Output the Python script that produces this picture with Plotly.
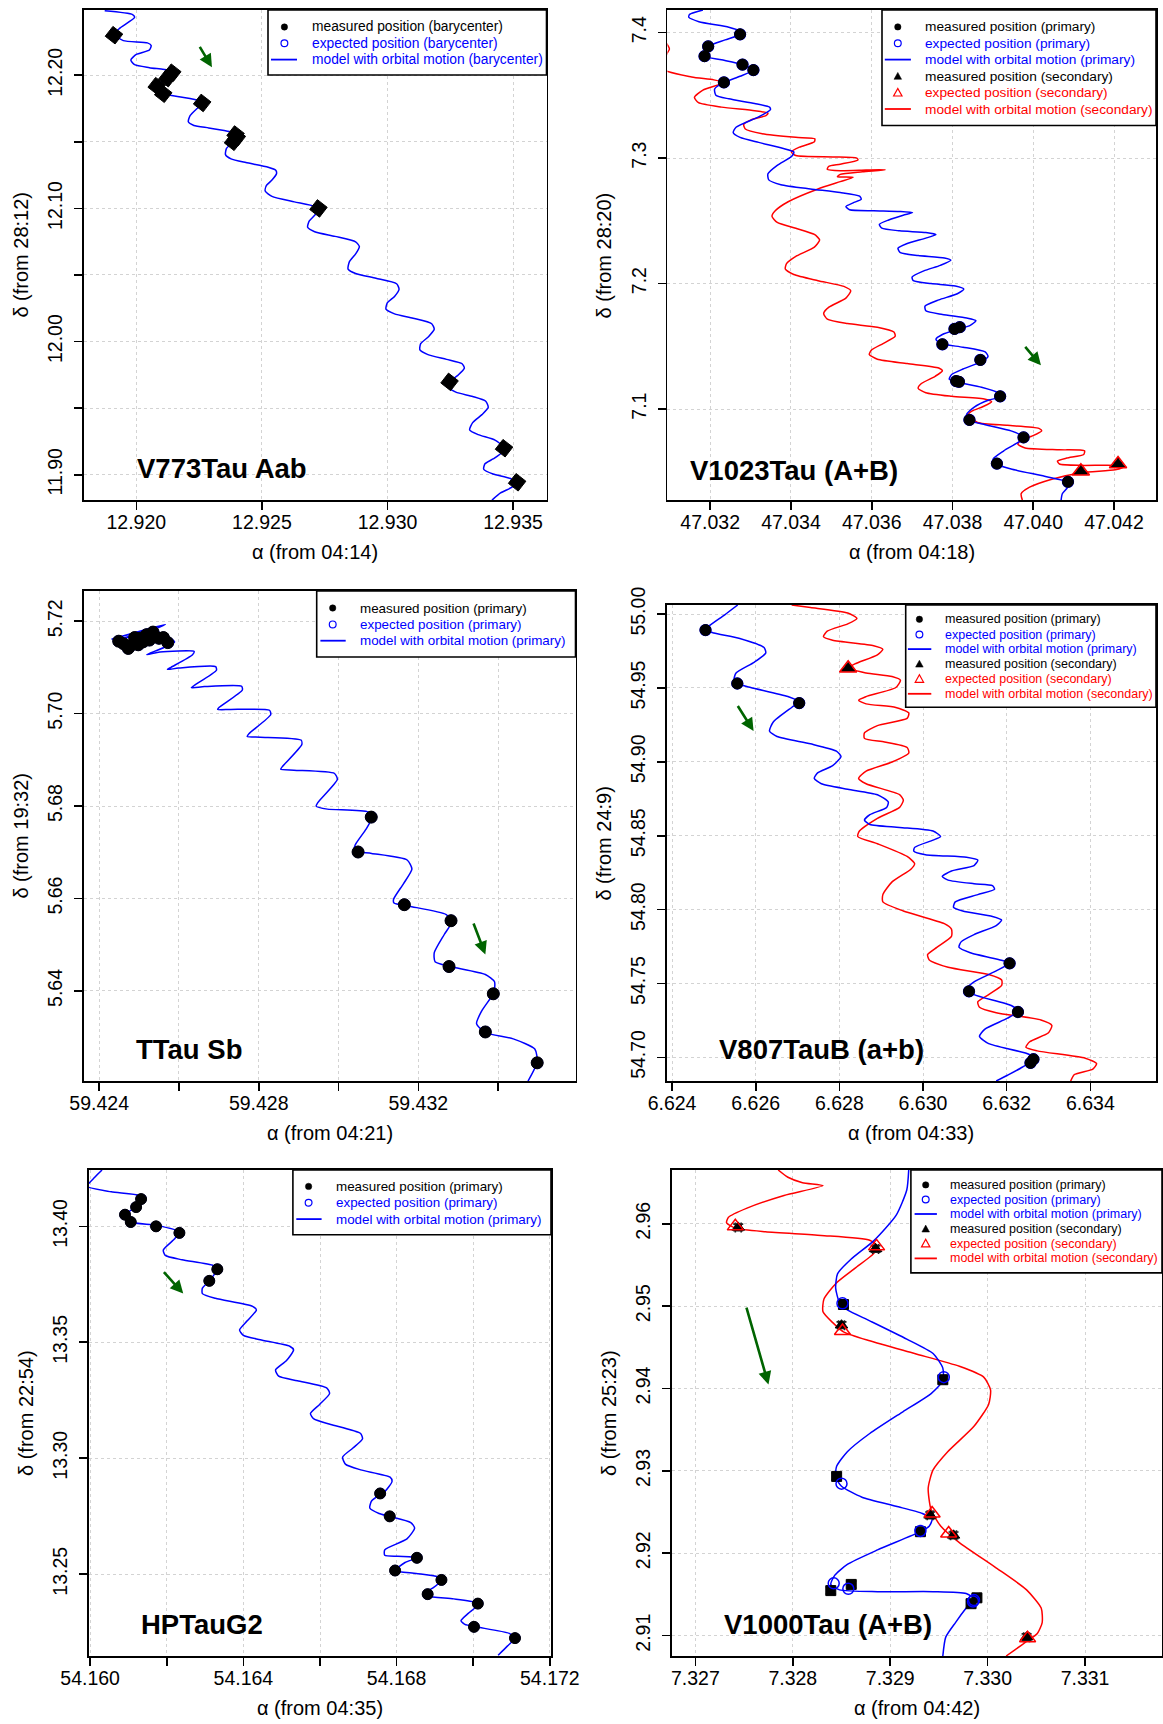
import plotly.graph_objects as go

W, H = 1163, 1724
FONT = "Liberation Sans, Arial, Helvetica, sans-serif"
BLUE, RED, GREEN = "#0000ff", "#ff0000", "#006400"

# ================= DATA =================
# ---- Panel 1: V773Tau Aab (barycenter) ----
v773_model_ra = [12.91874,12.91985,12.91993,12.91933,12.91911,12.91948,12.92044,12.92059,12.92052,12.92000,
                 12.91978,12.91993,12.92052,12.92126,12.92143,12.92126,12.92089,12.92086,12.92107,12.9217,
                 12.92251,12.92262,12.92244,12.92214,12.92207,12.92229,12.92288,12.9237,12.92395,12.92404,
                 12.92385,12.92359,12.92355,12.92377,12.92436,12.92525,12.92555,12.92558,12.9254,12.92518,
                 12.92513,12.9254,12.92629,12.9271,12.92725,12.9271,12.92688,12.92682,12.9271,12.92791,
                 12.92873,12.92888,12.92873,12.92848,12.92843,12.92873,12.92954,12.93036,12.93046,12.93028,
                 12.92999,12.92994,12.93028,12.93102,12.93176,12.93186,12.93164,12.93132,12.93129,12.93161,
                 12.93235,12.93297,12.93306,12.9328,12.9325,12.93243,12.93272,12.93339,12.93391,12.93401,
                 12.93376,12.93339,12.93327,12.93361,12.93428,12.9346,12.93454,12.9342,12.93388,12.93383,
                 12.9342,12.93487,12.93513,12.93494,12.9345,12.93416]
v773_model_dec = [12.2484,12.2456,12.2434,12.2352,12.2306,12.226,12.2243,12.2224,12.2189,12.2156,
                  12.2115,12.2079,12.2057,12.2038,12.2025,12.1984,12.1932,12.1896,12.1861,12.1839,
                  12.1809,12.1787,12.1754,12.1697,12.165,12.1623,12.1604,12.1577,12.1555,12.1533,
                  12.1495,12.1451,12.1404,12.1372,12.1344,12.1309,12.1287,12.126,12.1213,12.1172,
                  12.1131,12.109,12.1049,12.1014,12.0989,12.0948,12.0904,12.0858,12.0825,12.079,
                  12.0749,12.0713,12.0658,12.0598,12.0544,12.0511,12.0475,12.0434,12.0393,12.0339,
                  12.029,12.0243,12.0208,12.0175,12.0134,12.0093,12.0038,11.9984,11.9937,11.9902,
                  11.9866,11.9833,11.98,11.9746,11.9702,11.9656,11.962,11.9587,11.9552,11.9505,
                  11.9451,11.9391,11.9336,11.9301,11.926,11.921,11.9164,11.9118,11.9082,11.9041,
                  11.9005,11.8973,11.894,11.8904,11.8863,11.8809]
v773_meas_ra = [12.91911,12.92143,12.92123,12.92081,12.92107,12.92262,12.92395,12.92385,12.924,12.92725,12.93247,12.93464,12.93516]
v773_meas_dec = [12.2301,12.2019,12.1978,12.1918,12.1861,12.1792,12.1555,12.15,12.1533,12.10,11.9697,11.9199,11.8943]
v773_arrow = [12.92249, 12.2224, 12.92301, 12.206]   # tail ra, tail dec, head ra, head dec
v773_xticks = [12.920, 12.925, 12.930, 12.935]
v773_xlabels = ["12.920", "12.925", "12.930", "12.935"]
v773_yticks = [11.90, 11.95, 12.00, 12.05, 12.10, 12.15, 12.20]
v773_ylabels = ["11.90", "", "12.00", "", "12.10", "", "12.20"]

# ---- Panel 2: V1023Tau (A+B) ----
v1023_prim_ra = [47.03182,47.03149,47.03147,47.03172,47.03246,47.03272,47.03274,47.03237,47.03195,47.03189,
                 47.03186,47.03228,47.0328,47.03307,47.03274,47.03234,47.03211,47.03214,47.03246,47.0331,
                 47.03347,47.03349,47.0332,47.03264,47.03257,47.03274,47.0332,47.03379,47.03407,47.03402,
                 47.03366,47.03343,47.03345,47.03375,47.03448,47.03522,47.0357,47.03574,47.03554,47.03536,
                 47.03545,47.03605,47.03669,47.03701,47.03678,47.03642,47.03619,47.03625,47.03669,47.03734,
                 47.03759,47.03734,47.03688,47.03665,47.03671,47.03715,47.0378,47.03796,47.0377,47.03729,
                 47.037,47.03703,47.03747,47.03807,47.03828,47.03812,47.03766,47.03732,47.03734,47.03775,
                 47.03835,47.03858,47.03844,47.03816,47.03775,47.03759,47.0377,47.03826,47.03881,47.03888,
                 47.03872,47.03826,47.03798,47.03792,47.03809,47.03872,47.03913,47.03918,47.0389,47.03853,
                 47.03835,47.03839,47.03881,47.03945,47.03973,47.03968,47.03927,47.03901,47.03904,47.03945,
                 47.04028,47.04083,47.04085,47.04072,47.04069]
v1023_prim_dec = [7.418,7.4145,7.4122,7.4087,7.4043,7.4014,7.3986,7.3942,7.389,7.3855,
                  7.3812,7.3783,7.3745,7.3701,7.3652,7.3603,7.3551,7.3501,7.3472,7.3435,
                  7.3406,7.3385,7.3328,7.3246,7.3203,7.3165,7.3125,7.3078,7.3049,7.3014,
                  7.2942,7.2875,7.2826,7.2788,7.2754,7.2725,7.2696,7.2672,7.2643,7.2614,
                  7.2588,7.258,7.2574,7.2565,7.2545,7.2507,7.2472,7.2441,7.242,7.2406,
                  7.2391,7.2362,7.2319,7.2281,7.2246,7.2223,7.2203,7.2185,7.2145,7.2101,
                  7.2052,7.2023,7.2,7.198,7.1956,7.1919,7.187,7.182,7.1783,7.1754,
                  7.1725,7.1704,7.1667,7.1638,7.1594,7.1556,7.1522,7.1493,7.1455,7.142,
                  7.1377,7.1319,7.1275,7.1238,7.1217,7.1174,7.113,7.1096,7.1072,7.1014,
                  7.0957,7.0913,7.0875,7.0826,7.0783,7.0748,7.0667,7.0603,7.0565,7.0522,
                  7.0464,7.042,7.0377,7.0325,7.0275]
v1023_sec_ra = [47.03092,47.03099,47.03092,47.03082,47.03154,47.03209,47.03232,47.03182,47.03161,47.03171,
                47.03228,47.0331,47.03343,47.03338,47.03301,47.03283,47.03287,47.03329,47.03412,47.03459,
                47.03458,47.03421,47.03401,47.03412,47.03504,47.03563,47.03566,47.03522,47.03493,47.0349,
                47.03522,47.03586,47.03634,47.03577,47.03522,47.03515,47.03554,47.03522,47.03467,47.03393,
                47.03361,47.03353,47.03366,47.03412,47.03458,47.03471,47.03458,47.03412,47.03389,47.03386,
                47.03407,47.03467,47.03531,47.03548,47.03536,47.03494,47.03481,47.0349,47.0354,47.03614,
                47.03655,47.03658,47.03628,47.036,47.03594,47.03614,47.03688,47.03766,47.03775,47.03757,
                47.03723,47.03715,47.03734,47.03798,47.03881,47.03897,47.03876,47.03849,47.03839,47.03862,
                47.03936,47.04014,47.04021,47.03996,47.03968,47.03962,47.0398,47.04065,47.04127,47.04125,
                47.04083,47.0406,47.04065,47.0412,47.04203,47.04223,47.04203,47.0412,47.04046,47.03991,
                47.0397,47.03973]
v1023_sec_dec = [7.3913,7.387,7.3826,7.371,7.3646,7.3623,7.36,7.3542,7.3484,7.3441,
                 7.3406,7.3377,7.3357,7.3339,7.3304,7.3267,7.3232,7.3194,7.3165,7.3154,
                 7.313,7.3087,7.3049,7.302,7.3009,7.3,7.2985,7.2951,7.2933,7.291,
                 7.2899,7.2904,7.2907,7.289,7.287,7.2852,7.2846,7.2812,7.2754,7.2652,
                 7.258,7.2536,7.2487,7.2441,7.2391,7.2348,7.229,7.2217,7.2159,7.2116,
                 7.2072,7.2023,7.1977,7.1942,7.1884,7.1812,7.1762,7.1716,7.1681,7.1652,
                 7.1614,7.158,7.1522,7.1472,7.1435,7.1397,7.1362,7.1327,7.1304,7.1261,
                 7.1203,7.1165,7.113,7.1101,7.1078,7.1058,7.102,7.0985,7.0956,7.0893,
                 7.087,7.0846,7.0826,7.0783,7.0748,7.0719,7.069,7.0675,7.0667,7.0638,
                 7.0609,7.0585,7.0562,7.0551,7.0551,7.0536,7.0516,7.0493,7.0441,7.0377,
                 7.0325,7.0275]
v1023_meas_prim_ra = [47.03274,47.03195,47.03186,47.0328,47.03307,47.03234,47.03805,47.03818,47.03775,47.03869,
                      47.03809,47.03816,47.03918,47.03842,47.03976,47.0391,47.04086]
v1023_meas_prim_dec = [7.3986,7.389,7.3812,7.3745,7.3701,7.3603,7.1638,7.1652,7.1516,7.1391,
                       7.1223,7.1217,7.1101,7.0913,7.0774,7.0565,7.042]
v1023_meas_sec_ra = [47.04118, 47.0421]
v1023_meas_sec_dec = [7.0504, 7.0562]
v1023_arrow = [47.03977, 7.1507, 47.04019, 7.1348]
v1023_xticks = [47.032, 47.034, 47.036, 47.038, 47.040, 47.042]
v1023_xlabels = ["47.032", "47.034", "47.036", "47.038", "47.040", "47.042"]
v1023_yticks = [7.1, 7.2, 7.3, 7.4]
v1023_ylabels = ["7.1", "7.2", "7.3", "7.4"]

# ---- Panel 3: TTau Sb ----
ttau_model_ra = [59.42431,59.42566,59.42505,59.42459,59.4254,59.42589,59.42519,59.42552,59.42638,59.42634,
                 59.4258,59.42571,59.42599,59.42692,59.42694,59.42638,59.42631,59.42664,59.42757,59.42759,
                 59.42701,59.42697,59.42729,59.42827,59.4283,59.42776,59.42771,59.42804,59.42906,59.42908,
                 59.4286,59.42855,59.42888,59.4299,59.42997,59.42948,59.42944,59.42972,59.43074,59.43083,
                 59.43069,59.43042,59.43039,59.43083,59.43172,59.43184,59.43163,59.43138,59.43139,59.43177,
                 59.4327,59.43284,59.43265,59.4324,59.43242,59.43279,59.43368,59.43391,59.43389,59.43359,
                 59.43346,59.43368,59.43438,59.43492,59.43498,59.43475]
ttau_model_dec = [5.71607,5.71929,5.71709,5.7163,5.71788,5.71552,5.71276,5.71331,5.71347,5.71276,
                  5.71001,5.70954,5.70985,5.71017,5.70938,5.70608,5.7056,5.70584,5.70592,5.70513,
                  5.70136,5.70089,5.70089,5.70073,5.69978,5.69569,5.69506,5.69491,5.69428,5.69333,
                  5.68861,5.68798,5.68775,5.68704,5.68578,5.68075,5.67996,5.67933,5.6787,5.67737,
                  5.67501,5.67162,5.67029,5.66974,5.66832,5.66635,5.66321,5.65983,5.65904,5.65833,
                  5.65652,5.65495,5.6522,5.64826,5.6463,5.64527,5.64354,5.64197,5.63961,5.63568,
                  5.63292,5.63096,5.62962,5.62742,5.62466,5.62049]
ttau_meas_ra = [59.42449,59.42461,59.42473,59.42479,59.42489,59.42498,59.4251,59.42519,59.42526,59.42535,
                59.4255,59.42561,59.42572,59.42503,
                59.43082,59.43049,59.43165,59.43282,59.43277,59.43388,59.43368,59.43498]
ttau_meas_dec = [5.71567,5.71512,5.7141,5.71473,5.71646,5.71489,5.71552,5.71709,5.71591,5.71764,
                 5.7163,5.71646,5.71536,5.7163,
                 5.6776,5.67005,5.65865,5.65518,5.64527,5.63937,5.63111,5.62443]
ttau_arrow = [59.43337, 5.6549, 59.43368, 5.6479]
ttau_xticks = [59.424, 59.426, 59.428, 59.430, 59.432, 59.434]
ttau_xlabels = ["59.424", "", "59.428", "", "59.432", ""]
ttau_yticks = [5.64, 5.66, 5.68, 5.70, 5.72]
ttau_ylabels = ["5.64", "5.66", "5.68", "5.70", "5.72"]

# ---- Panel 4: V807TauB (a+b) ----
v807_prim_ra = [6.62557,6.62526,6.62486,6.6248,6.625,6.62562,6.6262,6.62624,6.62597,6.62553,
                6.62548,6.62556,6.62588,6.62677,6.62704,6.62686,6.62642,6.62633,6.62651,6.62731,
                6.62793,6.62804,6.62784,6.62748,6.6274,6.62757,6.6282,6.62891,6.62917,6.62913,
                6.62873,6.6286,6.62873,6.62944,6.63024,6.63042,6.63024,6.6298,6.62978,6.63006,
                6.63104,6.63131,6.63122,6.63068,6.63046,6.6306,6.63122,6.63166,6.63171,6.63131,
                6.63077,6.63073,6.63095,6.63166,6.63188,6.63175,6.63122,6.63091,6.63086,6.63113,
                6.63202,6.63207,6.63175,6.63122,6.63104,6.63122,6.63211,6.63228,6.63202,6.63148,
                6.63135,6.63157,6.63255,6.63264,6.63237,6.63202,6.63175]
v807_prim_dec = [55.00615,54.99951,54.99139,54.98918,54.98721,54.98352,54.97737,54.97368,54.96754,54.96016,
                 54.95524,54.95302,54.95032,54.94417,54.94048,54.93679,54.92696,54.92081,54.91712,54.9122,
                 54.90728,54.90359,54.89744,54.89252,54.88883,54.88515,54.88146,54.87777,54.87285,54.86916,
                 54.86424,54.86055,54.8576,54.85563,54.85317,54.84948,54.84703,54.84211,54.83965,54.83719,
                 54.83546,54.8335,54.82981,54.82612,54.82243,54.81997,54.81751,54.81628,54.81382,54.81013,
                 54.80521,54.80153,54.79907,54.79538,54.79292,54.78923,54.78308,54.77816,54.77447,54.77078,
                 54.76463,54.76365,54.75849,54.75111,54.74619,54.7425,54.73512,54.73143,54.72651,54.71913,
                 54.71421,54.70929,54.70191,54.69872,54.69331,54.6879,54.68397]
v807_sec_ra = [6.62686,6.62731,6.6282,6.62842,6.6282,6.62771,6.62762,6.62784,6.62882,6.62904,
               6.62891,6.62837,6.62821,6.62864,6.62926,6.62946,6.62935,6.62864,6.62846,6.62864,
               6.62935,6.62966,6.62962,6.62891,6.6286,6.6286,6.62908,6.62962,6.62966,6.62926,
               6.62864,6.62846,6.62864,6.62944,6.62953,6.62944,6.62891,6.62848,6.62844,6.62891,
               6.62962,6.6298,6.62971,6.62926,6.62904,6.62904,6.62953,6.63051,6.63068,6.63068,
               6.63033,6.63011,6.63015,6.6306,6.63157,6.63188,6.63188,6.63157,6.63131,6.63135,
               6.63175,6.63282,6.63308,6.633,6.63255,6.63246,6.63273,6.63388,6.63415,6.63406,
               6.63362,6.63353]
v807_sec_dec = [55.00615,55.00443,55.00074,54.99705,54.99336,54.98844,54.98475,54.98229,54.9786,54.97614,
                54.97245,54.96631,54.96335,54.96016,54.9577,54.95524,54.95032,54.94417,54.94171,54.93925,
                54.93679,54.9331,54.92941,54.9245,54.91958,54.91589,54.91343,54.90974,54.90605,54.8999,
                54.89375,54.88883,54.88515,54.87777,54.87408,54.86916,54.86178,54.85317,54.84948,54.84457,
                54.83596,54.83104,54.82735,54.81874,54.81013,54.80521,54.79907,54.79046,54.78677,54.78185,
                54.77447,54.76955,54.76587,54.76095,54.75603,54.75234,54.74865,54.7425,54.73758,54.73389,
                54.7302,54.72528,54.72159,54.71667,54.71053,54.70684,54.70438,54.69946,54.69577,54.69208,
                54.68839,54.68397]
v807_meas_prim_ra = [6.6248, 6.62556, 6.62704, 6.63207, 6.6311, 6.63227, 6.63264, 6.63257]
v807_meas_prim_dec = [54.98918, 54.95302, 54.93975, 54.76365, 54.74471, 54.7307, 54.69872, 54.69626]
v807_meas_sec_ra = [6.62821]
v807_meas_sec_dec = [54.96335]
v807_arrow = [6.62555, 54.9388, 6.62595, 54.9208]
v807_xticks = [6.624, 6.626, 6.628, 6.630, 6.632, 6.634]
v807_xlabels = ["6.624", "6.626", "6.628", "6.630", "6.632", "6.634"]
v807_yticks = [54.70, 54.75, 54.80, 54.85, 54.90, 54.95, 55.00]
v807_ylabels = ["54.70", "54.75", "54.80", "54.85", "54.90", "54.95", "55.00"]

# ---- Panel 5: HPTauG2 ----
hpt_model_ra = [54.16031,54.16012,54.15992,54.16055,54.16128,54.16133,54.1612,54.16091,54.16106,54.16172,
                54.16233,54.1622,54.16191,54.16196,54.1624,54.16322,54.16332,54.16311,54.16293,54.16293,
                54.16327,54.16424,54.16434,54.1641,54.1639,54.164,54.16444,54.16521,54.16531,54.16512,
                54.16484,54.16492,54.16541,54.16618,54.16625,54.16599,54.16575,54.16584,54.16628,54.16706,
                54.16711,54.16686,54.16659,54.16667,54.16706,54.16783,54.16788,54.16769,54.16735,54.1673,
                54.16754,54.16782,54.16837,54.16847,54.16827,54.16769,54.16769,54.16803,54.16853,54.16822,
                54.16796,54.16851,54.1691,54.16917,54.16895,54.16871,54.16881,54.16949,54.17007,54.17012,
                54.16987,54.16968,54.16978,54.17007,54.17094,54.17109,54.17089,54.17065]
hpt_model_dec = [13.42429,13.42116,13.41724,13.41489,13.41332,13.41176,13.40831,13.40502,13.40188,13.40047,
                 13.39765,13.39451,13.38981,13.38746,13.38558,13.38307,13.3815,13.37649,13.37335,13.371,
                 13.36897,13.36552,13.36395,13.35925,13.35533,13.35298,13.3511,13.34828,13.34671,13.34201,
                 13.33809,13.33542,13.33339,13.33025,13.3279,13.3232,13.31928,13.31693,13.31458,13.31066,
                 13.30831,13.30439,13.30047,13.29733,13.29498,13.29185,13.28997,13.28558,13.28166,13.27853,
                 13.27618,13.27492,13.27226,13.2699,13.2652,13.2605,13.25815,13.25768,13.25705,13.25502,
                 13.25157,13.25031,13.24875,13.2475,13.24404,13.24169,13.24044,13.23934,13.23777,13.23668,
                 13.23307,13.22994,13.22837,13.22727,13.22445,13.22241,13.21896,13.21505]
hpt_meas_ra = [54.16133,54.1612,54.16091,54.16106,54.16172,54.16233,54.16332,54.16311,54.16757,54.16782,
               54.16853,54.16796,54.16917,54.16881,54.17012,54.17002,54.17109]
hpt_meas_dec = [13.41176,13.40831,13.40502,13.40188,13.40,13.39718,13.3815,13.37649,13.2848,13.27492,
                13.25705,13.25157,13.2475,13.24138,13.2373,13.22727,13.22241]
hpt_arrow = [54.16189, 13.3809, 54.16243, 13.371]
hpt_xticks = [54.160, 54.162, 54.164, 54.166, 54.168, 54.170, 54.172]
hpt_xlabels = ["54.160", "", "54.164", "", "54.168", "", "54.172"]
hpt_yticks = [13.25, 13.30, 13.35, 13.40]
hpt_ylabels = ["13.25", "13.30", "13.35", "13.40"]

# ---- Panel 6: V1000Tau (A+B) ----
v1000_prim_ra = [7.32919,7.32917,7.32906,7.32883,7.3286,7.32846,7.32844,7.32848,7.32856,7.32879,
                 7.32917,7.32944,7.32954,7.32954,7.32942,7.32913,7.32879,7.32856,7.32845,7.32844,
                 7.3285,7.32871,7.32906,7.32933,7.32943,7.3294,7.32931,7.32887,7.32856,7.32843,
                 7.32839,7.32848,7.32887,7.32944,7.32978,7.32986,7.32978,7.32967,7.32957,7.32954]
v1000_prim_dec = [2.96653,2.9641,2.96102,2.95793,2.95572,2.95395,2.95219,2.95042,2.94954,2.94822,
                  2.946,2.94425,2.94248,2.94094,2.93939,2.93718,2.93454,2.93233,2.93056,2.92924,
                  2.92814,2.92681,2.92571,2.92483,2.92417,2.92328,2.92262,2.92041,2.91865,2.91732,
                  2.91622,2.91556,2.91534,2.91534,2.91512,2.91446,2.91335,2.91159,2.90982,2.90753]
v1000_sec_ra = [7.32785,7.32795,7.3281,7.32831,7.32791,7.32753,7.32734,7.32732,7.32741,7.32772,
                7.32829,7.32879,7.32887,7.32883,7.32864,7.32845,7.32832,7.32831,7.32841,7.32852,
                7.32879,7.32925,7.32971,7.32996,7.33003,7.33001,7.32986,7.32959,7.32944,7.32939,
                7.32942,7.32952,7.32971,7.33009,7.3304,7.33055,7.33056,7.33051,7.33041,7.33028,7.33019]
v1000_sec_dec = [2.96653,2.96565,2.96499,2.96463,2.96344,2.9619,2.96079,2.96013,2.95947,2.95903,
                 2.95859,2.95801,2.95726,2.95638,2.95462,2.95285,2.95086,2.94932,2.948,2.94689,
                 2.94579,2.94425,2.9427,2.94138,2.93983,2.93807,2.93542,2.93233,2.93012,2.92792,
                 2.92527,2.92328,2.9213,2.91821,2.91556,2.91335,2.91159,2.91026,2.90938,2.90828,2.90753]
v1000_meas_prim_ra = [7.32852, 7.32954, 7.32845, 7.32931, 7.32839, 7.3286, 7.32989, 7.32983]
v1000_meas_prim_dec = [2.9502, 2.94107, 2.92933, 2.92262, 2.91547, 2.91622, 2.91459, 2.91388]
v1000_exp_prim_ra = [7.32851, 7.32955, 7.3285, 7.32931, 7.32842, 7.32857, 7.32986, 7.32985]
v1000_exp_prim_dec = [2.95034, 2.94138, 2.92845, 2.92271, 2.91635, 2.91569, 2.91432, 2.91415]
v1000_meas_sec_ra = [7.32744, 7.32885, 7.3285, 7.32941, 7.32965, 7.3304]
v1000_meas_sec_dec = [2.95956, 2.95695, 2.94769, 2.92461, 2.92218, 2.90982]
v1000_exp_sec_ra = [7.32741, 7.32886, 7.32851, 7.32943, 7.3296, 7.33041]
v1000_exp_sec_dec = [2.95969, 2.95726, 2.94698, 2.92483, 2.9224, 2.90969]
v1000_err_ra = 0.00003
v1000_err_dec = 0.0004
v1000_arrow = [7.32752, 2.95, 7.32775, 2.9405]
v1000_xticks = [7.327, 7.328, 7.329, 7.330, 7.331]
v1000_xlabels = ["7.327", "7.328", "7.329", "7.330", "7.331"]
v1000_yticks = [2.91, 2.92, 2.93, 2.94, 2.95, 2.96]
v1000_ylabels = ["2.91", "2.92", "2.93", "2.94", "2.95", "2.96"]

for a, b in [(v773_model_ra, v773_model_dec), (v1023_prim_ra, v1023_prim_dec), (v1023_sec_ra, v1023_sec_dec),
             (ttau_model_ra, ttau_model_dec), (ttau_meas_ra, ttau_meas_dec), (v807_prim_ra, v807_prim_dec),
             (v807_sec_ra, v807_sec_dec), (hpt_model_ra, hpt_model_dec), (hpt_meas_ra, hpt_meas_dec),
             (v1000_prim_ra, v1000_prim_dec), (v1000_sec_ra, v1000_sec_dec)]:
    assert len(a) == len(b), (len(a), len(b))

# ================= LAYOUT SPECS (pixels) =================
panels = [
    dict(label="V773Tau Aab", lab=(12.91993, 11.9046), px=(83.6, 546.5), py=(10, 500),
         xr=(12.9179, 12.93633), yr=(11.881, 12.249), xt=v773_xticks, xl=v773_xlabels, yt=v773_yticks, yl=v773_ylabels,
         xtitle="α (from 04:14)", ytitle="δ (from 28:12)", arrow=v773_arrow,
         leg=dict(left=268, bottom=75, rows=[27, 43.3, 59.6], sym=284.4, ln=(271, 297), tx=309.7, fs=13.8,
                  kind="barycenter", two=False)),
    dict(label="V1023Tau (A+B)", lab=(47.03145, 7.0507), px=(667.4, 1156), py=(10, 500),
         xr=(47.03094, 47.04304), yr=(7.0275, 7.418), xt=v1023_xticks, xl=v1023_xlabels, yt=v1023_yticks, yl=v1023_ylabels,
         xtitle="α (from 04:18)", ytitle="δ (from 28:20)", arrow=v1023_arrow,
         leg=dict(left=882, bottom=125.5, rows=[26.9, 43.3, 59.6, 76.2, 92.6, 109.0], sym=897.8, ln=(884.8, 910.9),
                  tx=922.7, fs=13.7, kind="primary", two=True)),
    dict(label="TTau Sb", lab=(59.42487, 5.6274), px=(83.6, 575.5), py=(591, 1081),
         xr=(59.42361, 59.43594), yr=(5.6205, 5.72653), xt=ttau_xticks, xl=ttau_xlabels, yt=ttau_yticks, yl=ttau_ylabels,
         xtitle="α (from 04:21)", ytitle="δ (from 19:32)", arrow=ttau_arrow,
         leg=dict(left=316.7, bottom=657, rows=[608, 624.4, 640.7], sym=332.7, ln=(320.4, 345.7), tx=357.6, fs=13.4,
                  kind="primary", two=False)),
    dict(label="V807TauB (a+b)", lab=(6.62507, 54.7056), px=(666.6, 1156), py=(605, 1081),
         xr=(6.62387, 6.63557), yr=(54.684, 55.00615), xt=v807_xticks, xl=v807_xlabels, yt=v807_yticks, yl=v807_ylabels,
         xtitle="α (from 04:33)", ytitle="δ (from 24:9)", arrow=v807_arrow,
         leg=dict(left=905.7, bottom=707.3, rows=[619.3, 634.5, 649.1, 664.0, 678.9, 693.8], sym=919.4,
                  ln=(907.9, 931.3), tx=942.5, fs=12.5, kind="primary", two=True)),
    dict(label="HPTauG2", lab=(54.16128, 13.2284), px=(89, 551), py=(1170, 1656),
         xr=(54.15997, 54.17203), yr=(13.2147, 13.4243), xt=hpt_xticks, xl=hpt_xlabels, yt=hpt_yticks, yl=hpt_ylabels,
         xtitle="α (from 04:35)", ytitle="δ (from 22:54)", arrow=hpt_arrow,
         leg=dict(left=292.9, bottom=1234.7, rows=[1186.4, 1202.7, 1219.1], sym=308.6, ln=(296.3, 321.6), tx=333.8,
                  fs=13.4, kind="primary", two=False)),
    dict(label="V1000Tau (A+B)", lab=(7.32727, 2.91137), px=(672, 1162), py=(1170, 1656),
         xr=(7.32676, 7.33179), yr=(2.90753, 2.96653), xt=v1000_xticks, xl=v1000_xlabels, yt=v1000_yticks, yl=v1000_ylabels,
         xtitle="α (from 04:42)", ytitle="δ (from 25:23)", arrow=v1000_arrow,
         leg=dict(left=910.9, bottom=1272.9, rows=[1184.9, 1199.5, 1214.0, 1228.9, 1243.5, 1258.4], sym=925.7,
                  ln=(914.6, 936.9), tx=948, fs=12.5, kind="primary", two=True)),
]

fx = lambda v: v / W
fy = lambda v: 1 - v / H

fig = go.Figure()
layout = dict(width=W, height=H, margin=dict(l=0, r=0, t=0, b=0, pad=0, autoexpand=False),
              paper_bgcolor="white", plot_bgcolor="white", showlegend=False, hovermode=False)
annotations = []
shapes = []


def legend_block(p):
    L = p["leg"]
    x1 = p["px"][1]
    y0 = p["py"][0]
    shapes.append(dict(type="rect", xref="paper", yref="paper", x0=fx(L["left"]), x1=fx(x1), y0=fy(L["bottom"]),
                       y1=fy(y0), fillcolor="white", line=dict(color="black", width=1.6), layer="above"))
    kinds = [("measured position (%s)" % L["kind"], "black", "dot"),
             ("expected position (%s)" % L["kind"], BLUE, "ocircle"),
             ("model with orbital motion (%s)" % L["kind"], BLUE, "line")]
    if L["two"]:
        kinds += [("measured position (secondary)", "black", "tri"),
                  ("expected position (secondary)", RED, "otri"),
                  ("model with orbital motion (secondary)", RED, "line")]
    for (txt, c, sym), cy in zip(kinds, L["rows"]):
        base = dict(xref="paper", yref="paper", xsizemode="pixel", ysizemode="pixel",
                    xanchor=fx(L["sym"]), yanchor=fy(cy), layer="above")
        if sym == "dot":
            shapes.append(dict(type="circle", x0=-3.2, x1=3.2, y0=-3.2, y1=3.2, fillcolor="black",
                               line=dict(color="black", width=0.5), **base))
        elif sym == "ocircle":
            shapes.append(dict(type="circle", x0=-3.4, x1=3.4, y0=-3.4, y1=3.4, fillcolor="rgba(0,0,0,0)",
                               line=dict(color=BLUE, width=1.2), **base))
        elif sym == "tri":
            shapes.append(dict(type="path", path="M -3.8,-3.1 L 3.8,-3.1 L 0,3.8 Z", fillcolor="black",
                               line=dict(color="black", width=0.5), **base))
        elif sym == "otri":
            shapes.append(dict(type="path", path="M -4.2,-3.4 L 4.2,-3.4 L 0,4.2 Z", fillcolor="rgba(0,0,0,0)",
                               line=dict(color=RED, width=1.2), **base))
        else:
            shapes.append(dict(type="line", xref="paper", yref="paper", x0=fx(L["ln"][0]), x1=fx(L["ln"][1]),
                               y0=fy(cy), y1=fy(cy), line=dict(color=c, width=1.8), layer="above"))
        annotations.append(dict(x=fx(L["tx"]), y=fy(cy), xref="paper", yref="paper", text=txt, showarrow=False,
                                xanchor="left", yanchor="middle",
                                font=dict(family=FONT, size=L["fs"], color=c)))


for i, p in enumerate(panels, start=1):
    xa = "x" if i == 1 else "x%d" % i
    ya = "y" if i == 1 else "y%d" % i
    p["xa"], p["ya"] = xa, ya
    x0, x1 = p["px"]
    y0, y1 = p["py"]
    common = dict(ticks="outside", ticklen=8, tickwidth=1.6, tickcolor="black",
                  showline=True, linecolor="black", linewidth=1.8, mirror=True,
                  showgrid=True, gridcolor="#d3d3d3", griddash="dot", gridwidth=1,
                  zeroline=False, tickfont=dict(family=FONT, size=19.5, color="black"),
                  tickmode="array", automargin=False, fixedrange=True)
    layout["xaxis" if i == 1 else "xaxis%d" % i] = dict(
        domain=[fx(x0), fx(x1)], range=list(p["xr"]), anchor=ya,
        tickvals=p["xt"], ticktext=p["xl"], ticklabelstandoff=-4, **common)
    layout["yaxis" if i == 1 else "yaxis%d" % i] = dict(
        domain=[fy(y1), fy(y0)], range=list(p["yr"]), anchor=xa,
        tickvals=p["yt"], ticktext=p["yl"], tickangle=-90, ticklabelstandoff=4, **common)
    annotations.append(dict(x=fx((x0 + x1) / 2), y=fy(y1 + 52), xref="paper", yref="paper",
                            text=p["xtitle"], showarrow=False, xanchor="center", yanchor="middle",
                            font=dict(family=FONT, size=20, color="black")))
    annotations.append(dict(x=fx(x0 - 63), y=fy((y0 + y1) / 2), xref="paper", yref="paper",
                            text=p["ytitle"], showarrow=False, xanchor="center", yanchor="middle",
                            textangle=-90, font=dict(family=FONT, size=20, color="black")))
    annotations.append(dict(x=p["lab"][0], y=p["lab"][1], xref=xa, yref=ya, text="<b>%s</b>" % p["label"],
                            showarrow=False, xanchor="left", yanchor="middle",
                            font=dict(family=FONT, size=27.5, color="black")))
    ar = p["arrow"]
    annotations.append(dict(x=ar[2], y=ar[3], ax=ar[0], ay=ar[1], xref=xa, yref=ya, axref=xa, ayref=ya,
                            text="", showarrow=True, arrowhead=2, arrowsize=1.0, arrowwidth=2.6,
                            arrowcolor=GREEN, standoff=0, startstandoff=0))
    legend_block(p)


def line(p, xs, ys, color):
    fig.add_trace(go.Scatter(x=xs, y=ys, mode="lines", line=dict(color=color, width=1.5, shape="spline", smoothing=0.6),
                             xaxis=p["xa"], yaxis=p["ya"], hoverinfo="skip"))


def pts(p, xs, ys, symbol, size, color, lw=1.0, angle=0, err=None):
    kw = {}
    if err:
        kw["error_x"] = dict(type="constant", value=err[0], color="#222222", thickness=1.6, width=5)
        kw["error_y"] = dict(type="constant", value=err[1], color="#222222", thickness=1.6, width=5)
    fig.add_trace(go.Scatter(x=xs, y=ys, mode="markers",
                             marker=dict(symbol=symbol, size=size, color=color, angle=angle,
                                         line=dict(color=color, width=lw)),
                             xaxis=p["xa"], yaxis=p["ya"], hoverinfo="skip", **kw))


# Panel 1
p = panels[0]
line(p, v773_model_ra, v773_model_dec, BLUE)
pts(p, v773_meas_ra, v773_meas_dec, "circle-open", 8, BLUE, lw=1.3)
pts(p, v773_meas_ra, v773_meas_dec, "square", 12.5, "black", angle=38)

# Panel 2
p = panels[1]
line(p, v1023_sec_ra, v1023_sec_dec, RED)
line(p, v1023_prim_ra, v1023_prim_dec, BLUE)
pts(p, v1023_meas_prim_ra, v1023_meas_prim_dec, "circle-open", 11, BLUE, lw=1.3)
pts(p, v1023_meas_prim_ra, v1023_meas_prim_dec, "circle", 11, "black")
pts(p, v1023_meas_sec_ra, v1023_meas_sec_dec, "triangle-up", 12, "black")
pts(p, v1023_meas_sec_ra, v1023_meas_sec_dec, "triangle-up-open", 15, RED, lw=1.5)

# Panel 3
p = panels[2]
line(p, ttau_model_ra, ttau_model_dec, BLUE)
pts(p, ttau_meas_ra, ttau_meas_dec, "circle-open", 11, BLUE, lw=1.3)
pts(p, ttau_meas_ra, ttau_meas_dec, "circle", 12, "black")

# Panel 4
p = panels[3]
line(p, v807_sec_ra, v807_sec_dec, RED)
line(p, v807_prim_ra, v807_prim_dec, BLUE)
pts(p, v807_meas_prim_ra, v807_meas_prim_dec, "circle-open", 11, BLUE, lw=1.3)
pts(p, v807_meas_prim_ra, v807_meas_prim_dec, "circle", 11, "black")
pts(p, v807_meas_sec_ra, v807_meas_sec_dec, "triangle-up", 12, "black")
pts(p, v807_meas_sec_ra, v807_meas_sec_dec, "triangle-up-open", 15, RED, lw=1.5)

# Panel 5
p = panels[4]
line(p, hpt_model_ra, hpt_model_dec, BLUE)
pts(p, hpt_meas_ra, hpt_meas_dec, "circle-open", 10, BLUE, lw=1.3)
pts(p, hpt_meas_ra, hpt_meas_dec, "circle", 11, "black")

# Panel 6
p = panels[5]
line(p, v1000_sec_ra, v1000_sec_dec, RED)
line(p, v1000_prim_ra, v1000_prim_dec, BLUE)
pts(p, v1000_meas_prim_ra, v1000_meas_prim_dec, "square", 10, "black", err=(v1000_err_ra, v1000_err_dec))
pts(p, v1000_meas_sec_ra, v1000_meas_sec_dec, "triangle-up", 11, "black", err=(v1000_err_ra, v1000_err_dec))
pts(p, v1000_exp_prim_ra, v1000_exp_prim_dec, "circle-open", 11, BLUE, lw=1.5)
pts(p, v1000_exp_sec_ra, v1000_exp_sec_dec, "triangle-up-open", 14, RED, lw=1.5)

layout["annotations"] = annotations
layout["shapes"] = shapes
fig.update_layout(**layout)

fig.write_html("out.html", config={"displayModeBar": False, "staticPlot": True},
               post_script="document.body.style.margin='0';document.body.style.overflow='hidden';")
